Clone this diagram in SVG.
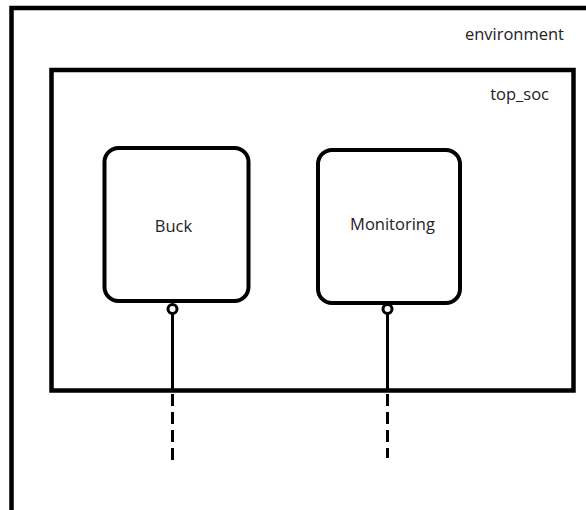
<svg xmlns="http://www.w3.org/2000/svg" width="586" height="510" viewBox="0 0 586 510">
  <style>
    .frame { fill: none; stroke: #000; stroke-width: 4.5; }
    .block { fill: #fff; stroke: #000; stroke-width: 4; }
    .label { font-family: "Open Sans", "Liberation Sans", sans-serif; font-size: 16.5px; fill: #222; }
    .center { text-anchor: middle; }
    .wire { stroke: #000; stroke-width: 3; fill: none; }
    .wire-out { stroke: #000; stroke-width: 3; fill: none; stroke-dasharray: 12 6; }
    .port { fill: #fff; stroke: #000; stroke-width: 3; }
  </style>
  <rect width="586" height="510" fill="#fff"/>

  <!-- environment boundary (continues past the right and bottom edges) -->
  <g id="environment">
    <rect class="frame" x="11.5" y="8" width="620" height="540"/>
    <text class="label" x="564" y="40" text-anchor="end">environment</text>
  </g>

  <!-- top-level SoC -->
  <g id="top_soc">
    <rect class="frame" x="51.5" y="70" width="522" height="320.5"/>
    <text class="label" x="549" y="100" text-anchor="end">top_soc</text>
  </g>

  <!-- external wires: solid inside the SoC, dashed outside -->
  <g id="connectors">
    <line class="wire" x1="172.5" y1="313" x2="172.5" y2="391"/>
    <line class="wire-out" x1="172.5" y1="394" x2="172.5" y2="466"/>
    <line class="wire" x1="387.5" y1="313" x2="387.5" y2="391"/>
    <line class="wire-out" x1="387.5" y1="394" x2="387.5" y2="458"/>
  </g>

  <g id="buck">
    <rect class="block" x="104.5" y="148" width="144" height="153" rx="14"/>
    <circle class="port" cx="172.5" cy="309" r="4.5"/>
    <text class="label center" x="173.5" y="232">Buck</text>
  </g>

  <g id="monitoring">
    <rect class="block" x="318" y="150" width="142" height="153" rx="14"/>
    <circle class="port" cx="387.5" cy="309" r="4.5"/>
    <text class="label center" x="392.5" y="230">Monitoring</text>
  </g>
</svg>
